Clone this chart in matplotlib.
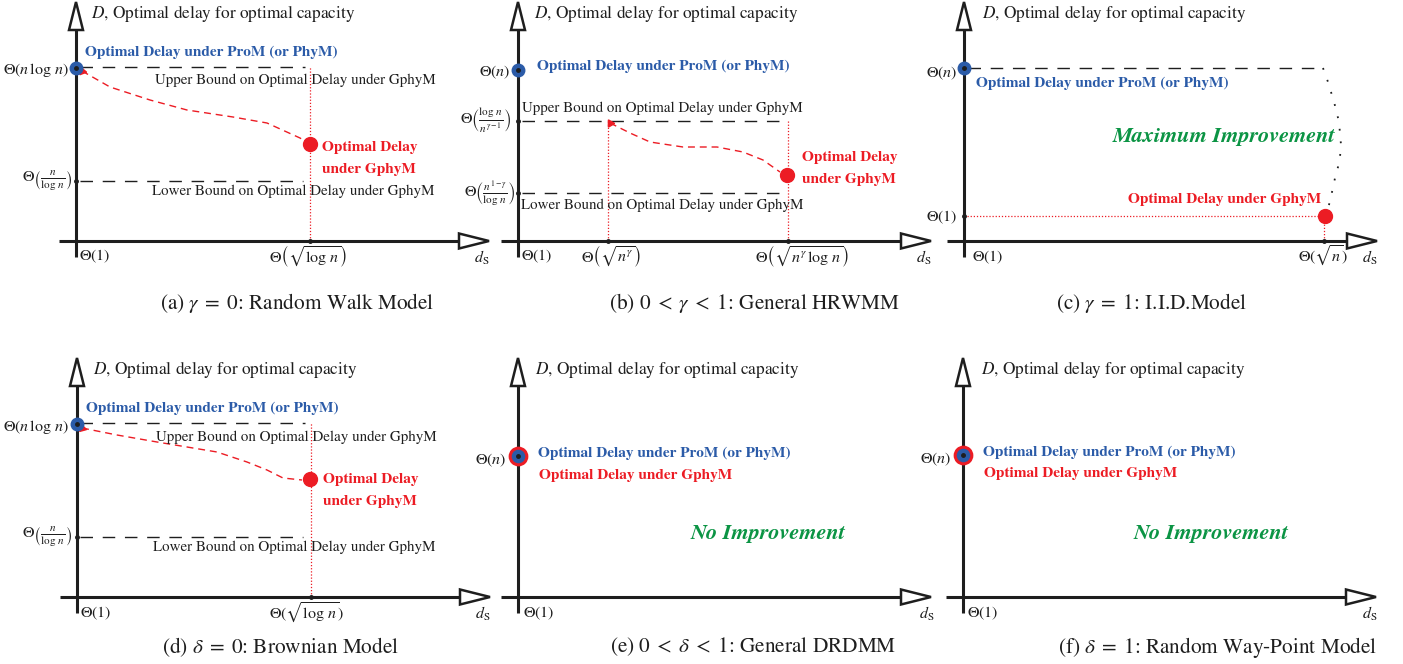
import matplotlib.pyplot as plt
from matplotlib.patches import Polygon

plt.rcParams['font.family'] = 'STIXGeneral'
plt.rcParams['mathtext.fontset'] = 'stix'

W, H = 1403, 664
BLUE = '#2b5ba8'
RED = '#ec1c24'
GREEN = '#0b9444'
INK = '#1e1e1e'

# crossing point of the two axes of each panel (figure pixels)
panel_names = ['a', 'b', 'c', 'd', 'e', 'f']
origin_x = [76, 518, 964, 77, 518, 963]
origin_y = [241, 241, 241, 597, 597, 597]

captions = [r'(a) $\gamma\;=\;0$: Random Walk Model',
            r'(b) $0\;<\;\gamma\;<\;1$: General HRWMM',
            r'(c) $\gamma\;=\;1$: I.I.D.Model',
            r'(d) $\delta\;=\;0$: Brownian Model',
            r'(e) $0\;<\;\delta\;<\;1$: General DRDMM',
            r'(f) $\delta\;=\;1$: Random Way-Point Model']

# --- values, as offsets (px) right of / above the origin of each panel ---
# (a) random walk
a_prom = 173
a_upper, a_lower = 174, 60
a_opt_x, a_opt_y = 234, 97
a_curve_x = [6, 34, 74, 111, 157, 191, 224, 232]
a_curve_y = [170, 154, 141, 131, 124, 118, 103, 98]
# (b) general HRWMM
b_prom = 171
b_upper, b_lower = 120, 48
b_lo_x, b_hi_x = 90, 270
b_opt_x, b_opt_y = 269, 66
b_curve_x = [92, 112, 132, 165, 199, 225, 245, 262]
b_curve_y = [118, 108, 99, 94, 94, 89, 81, 69]
# (c) i.i.d.
c_prom = 173
c_opt_x, c_opt_y = 360, 25
c_gap_x = [359, 364, 367, 370, 373, 375, 376, 377, 376, 374, 371, 369, 366, 364, 362]
c_gap_y = [173, 159, 149, 139, 128, 118, 108, 96, 84, 74, 63, 53, 41, 31, 28]
# (d) brownian
d_prom = 173
d_upper, d_lower = 174, 60
d_opt_x, d_opt_y = 233, 118
d_curve_x = [5, 40, 80, 140, 170, 190, 206, 225]
d_curve_y = [169, 162, 155, 145, 135, 127, 119, 117]
# (e), (f) no improvement
e_prom = 141
f_prom = 142

fig = plt.figure(figsize=(W / 100, H / 100), dpi=100)


def frame(i, title_dx=16, ds_dx=406):
    ox, oy = origin_x[i], origin_y[i]
    ax = fig.add_axes([0, 0, 1, 1])
    ax.set_xlim(-ox, W - ox)
    ax.set_ylim(oy - H, oy)
    ax.axis('off')
    ax.patch.set_alpha(0)
    ax.plot([0, 0], [-16, 211], color=INK, lw=2.2, solid_capstyle='butt', zorder=3)
    ax.plot([-17, 383], [0, 0], color=INK, lw=2.2, solid_capstyle='butt', zorder=3)
    ax.add_patch(Polygon([[-7, 211], [7, 211], [0, 239]], closed=True, fc='white',
                         ec=INK, lw=1.8, joinstyle='miter', zorder=4))
    ax.add_patch(Polygon([[383, -7.5], [383, 7.5], [413, 0]], closed=True, fc='white',
                         ec=INK, lw=1.8, joinstyle='miter', zorder=4))
    ax.text(ds_dx, -17, r'$d_{\mathrm{S}}$', ha='center', va='center', fontsize=11.5, color=INK)
    ax.text(title_dx, 227, r'$D$, Optimal delay for optimal capacity', ha='left',
            va='center', fontsize=12.4, color=INK)
    return ax


def hdash(ax, y, x0, x1):
    ax.plot([x0, x1], [y, y], color=INK, lw=1.0, dashes=(9, 7), zorder=2)


def vdot(ax, x, y0, y1):
    ax.plot([x, x], [y0, y1], color=RED, lw=0.9, ls=(0, (1, 1.5)), zorder=2)


def tickdot(ax, x, y):
    ax.plot(x, y, 'o', color=INK, ms=2.5, zorder=5)


def start_head(ax, x, y, ang):
    ax.plot(x, y, marker=(3, 0, ang), color=RED, ms=6, zorder=5)


bold = dict(fontweight='bold', fontsize=11)
tick = dict(fontsize=11.5, color=INK, va='center')
note = dict(fontsize=10.8, color=INK, va='center')
cap = dict(fontsize=15.3, color=INK, ha='left', va='center')

# ---------------- (a) ----------------
ax = frame(0, title_dx=15)
hdash(ax, a_upper, 4, 229)
hdash(ax, a_lower, 4, 227)
vdot(ax, a_opt_x, 0, a_upper)
ax.plot(a_curve_x, a_curve_y, color=RED, lw=1.0, dashes=(5, 3.5), zorder=3)
start_head(ax, a_curve_x[0], a_curve_y[0], 20)
ax.plot(0, a_prom, 'o', color=BLUE, ms=9, zorder=5)
tickdot(ax, 0, a_prom)
ax.plot(a_opt_x, a_opt_y, 'o', color=RED, ms=10, zorder=5)
tickdot(ax, 0, a_lower)
tickdot(ax, a_opt_x, 0)
ax.text(9, 189, 'Optimal Delay under ProM (or PhyM)', color=BLUE, va='center', **bold)
ax.text(79, 161, 'Upper Bound on Optimal Delay under GphyM', **note)
ax.text(76, 50, 'Lower Bound on Optimal Delay under GphyM', **note)
ax.text(246, 94, 'Optimal Delay', color=RED, va='center', **bold)
ax.text(246, 72, 'under GphyM', color=RED, va='center', **bold)
ax.text(-7, 171, r'$\Theta(n\,\log\,n)$', ha='right', **tick)
ax.text(-4, 60, r'$\Theta\left(\frac{n}{\log\,n}\right)$', ha='right', **tick)
ax.text(3, -15, r'$\Theta(1)$', ha='left', **tick)
ax.text(232, -15, r'$\Theta\left(\sqrt{\log\,n}\right)$', ha='center', **tick)
ax.text(84, -62, captions[0], **cap)

# ---------------- (b) ----------------
ax = frame(1)
hdash(ax, b_upper, 4, b_hi_x)
hdash(ax, b_lower, 4, b_hi_x)
vdot(ax, b_lo_x, 0, b_upper)
vdot(ax, b_hi_x, 0, b_upper)
ax.plot(b_curve_x, b_curve_y, color=RED, lw=1.0, dashes=(5, 3.5), zorder=3)
start_head(ax, b_curve_x[0], b_curve_y[0], 30)
ax.plot(0, b_prom, 'o', color=BLUE, ms=9, zorder=5)
tickdot(ax, 0, b_prom)
ax.plot(b_opt_x, b_opt_y, 'o', color=RED, ms=10, zorder=5)
for y in (b_upper, b_lower):
    tickdot(ax, 0, y)
for x in (b_lo_x, b_hi_x):
    tickdot(ax, x, 0)
ax.text(19, 175, 'Optimal Delay under ProM (or PhyM)', color=BLUE, va='center', **bold)
ax.text(4, 133, 'Upper Bound on Optimal Delay under GphyM', **note)
ax.text(3, 36, 'Lower Bound on Optimal Delay under GphyM', **note)
ax.text(284, 83, 'Optimal Delay', color=RED, va='center', **bold)
ax.text(284, 61, 'under GphyM', color=RED, va='center', **bold)
ax.text(-8, 169, r'$\Theta(n)$', ha='right', **tick)
ax.text(-7, 120, r'$\Theta\left(\frac{\log\,n}{n^{\gamma-1}}\right)$', ha='right', **tick)
ax.text(-3, 47, r'$\Theta\left(\frac{n^{1-\gamma}}{\log\,n}\right)$', ha='right', **tick)
ax.text(3, -15, r'$\Theta(1)$', ha='left', **tick)
ax.text(93, -15, r'$\Theta\left(\sqrt{n^{\gamma}}\right)$', ha='center', **tick)
ax.text(284, -15, r'$\Theta\left(\sqrt{n^{\gamma}\,\log\,n}\right)$', ha='center', **tick)
ax.text(91, -62, captions[1], **cap)

# ---------------- (c) ----------------
ax = frame(2, title_dx=18)
hdash(ax, c_prom, 4, 358)
ax.plot(c_gap_x, c_gap_y, color=INK, lw=1.3, ls=(0, (1, 6)), zorder=2)
ax.plot([3, c_opt_x - 4], [c_opt_y, c_opt_y], color=RED, lw=0.9, ls=(0, (1, 1.5)), zorder=2)
vdot(ax, c_opt_x, 0, c_opt_y)
ax.plot(0, c_prom, 'o', color=BLUE, ms=9, zorder=5)
tickdot(ax, 0, c_prom)
ax.plot(c_opt_x + 1, c_opt_y, 'o', color=RED, ms=10, zorder=5)
tickdot(ax, 0, c_opt_y)
tickdot(ax, c_opt_x, 0)
ax.text(12, 158, 'Optimal Delay under ProM (or PhyM)', color=BLUE, va='center', **bold)
ax.text(260, 105, 'Maximum Improvement', color=GREEN, fontsize=16, fontweight='bold',
        style='italic', ha='center', va='center')
ax.text(357, 41, 'Optimal Delay under GphyM', color=RED, ha='right', va='center', **bold)
ax.text(-7, 168, r'$\Theta(n)$', ha='right', **tick)
ax.text(-7, 24, r'$\Theta(1)$', ha='right', **tick)
ax.text(8, -16, r'$\Theta(1)$', ha='left', **tick)
ax.text(359, -15, r'$\Theta(\sqrt{n})$', ha='center', **tick)
ax.text(92, -62, captions[2], **cap)

# ---------------- (d) ----------------
ax = frame(3)
hdash(ax, d_upper, 3, 228)
hdash(ax, d_lower, 3, 226)
vdot(ax, 234, 0, d_upper)
ax.plot(d_curve_x, d_curve_y, color=RED, lw=1.0, dashes=(5, 3.5), zorder=3)
start_head(ax, d_curve_x[0], d_curve_y[0], 15)
ax.plot(0, d_prom, 'o', color=BLUE, ms=9, zorder=5)
tickdot(ax, 0, d_prom)
ax.plot(d_opt_x, d_opt_y, 'o', color=RED, ms=10, zorder=5)
tickdot(ax, 0, d_lower)
tickdot(ax, 234, 0)
ax.text(9, 189, 'Optimal Delay under ProM (or PhyM)', color=BLUE, va='center', **bold)
ax.text(79, 160, 'Upper Bound on Optimal Delay under GphyM', **note)
ax.text(76, 50, 'Lower Bound on Optimal Delay under GphyM', **note)
ax.text(246, 118, 'Optimal Delay', color=RED, va='center', **bold)
ax.text(246, 96, 'under GphyM', color=RED, va='center', **bold)
ax.text(-8, 170, r'$\Theta(n\,\log\,n)$', ha='right', **tick)
ax.text(-5, 60, r'$\Theta\left(\frac{n}{\log\,n}\right)$', ha='right', **tick)
ax.text(3, -16, r'$\Theta(1)$', ha='left', **tick)
ax.text(229, -16, r'$\Theta(\sqrt{\log\,n})$', ha='center', **tick)
ax.text(85, -50, captions[3], **cap)

# ---------------- (e) and (f) ----------------
for i, prom, ds_dx, th_dx in ((4, e_prom, 409, 5), (5, f_prom, 407, 4)):
    ax = frame(i, title_dx=17 if i == 4 else 18, ds_dx=ds_dx)
    ax.plot(0, prom, 'o', mfc=BLUE, mec=RED, mew=2.2, ms=12, zorder=5)
    tickdot(ax, 0, prom)
    ax.text(20, prom + 3, 'Optimal Delay under ProM (or PhyM)', color=BLUE, va='center', **bold)
    ax.text(21, prom - 19, 'Optimal Delay under GphyM', color=RED, va='center', **bold)
    ax.text(250 if i == 4 else 248, 64, 'No Improvement', color=GREEN, fontsize=16,
            fontweight='bold', style='italic', ha='center', va='center')
    ax.text(-12, prom - 4, r'$\Theta(n)$', ha='right', **tick)
    ax.text(th_dx, -16, r'$\Theta(1)$', ha='left', **tick)
    ax.text(92 if i == 4 else 95, -50, captions[i], **cap)

plt.savefig('out.png', dpi=100)
